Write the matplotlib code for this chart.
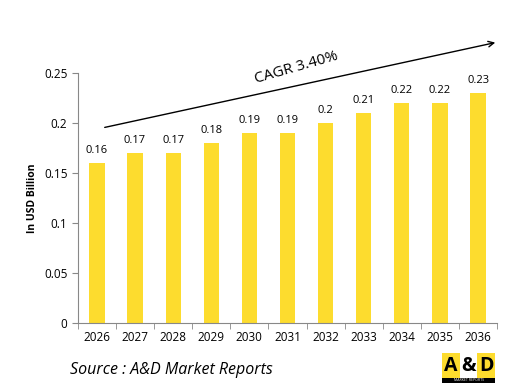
import numpy as np
import matplotlib.pyplot as plt
from matplotlib.patches import Rectangle

plt.rcParams['font.family'] = ['Open Sans', 'DejaVu Sans']

# data
years = ['2026', '2027', '2028', '2029', '2030', '2031', '2032', '2033', '2034', '2035', '2036']
values = [0.16, 0.17, 0.17, 0.18, 0.19, 0.19, 0.2, 0.21, 0.22, 0.22, 0.23]
labels = ['0.16', '0.17', '0.17', '0.18', '0.19', '0.19', '0.2', '0.21', '0.22', '0.22', '0.23']
yticks = [0, 0.05, 0.1, 0.15, 0.2, 0.25]
ytick_labels = ['0', '0.05', '0.1', '0.15', '0.2', '0.25']

fig = plt.figure(figsize=(5.12, 3.92), dpi=100)
ax = fig.add_axes([0.152, 0.176, 0.819, 0.638])

x = np.arange(len(years))
ax.bar(x, values, width=0.4, color='#FDDC2E')
for xi, v, lab in zip(x, values, labels):
    ax.text(xi, v + 0.007, lab, ha='center', va='bottom', fontsize=8)

ax.set_xlim(-0.5, len(years) - 0.5)
ax.set_ylim(0, 0.25)
ax.set_yticks(yticks)
ax.set_yticklabels(ytick_labels, fontsize=8.5)
ax.set_xticks(x)
ax.set_xticklabels(years, fontsize=8.5)
ax.set_xticks(np.arange(-0.5, len(years)), minor=True)
ax.tick_params(axis='x', which='major', length=0, pad=6)
ax.tick_params(axis='x', which='minor', length=4, color='#888888', direction='out')
ax.tick_params(axis='y', length=4, color='#888888', direction='out')
for s in ['top', 'right']:
    ax.spines[s].set_visible(False)
for s in ['left', 'bottom']:
    ax.spines[s].set_color('#888888')
ax.set_ylabel('In USD Billion', fontsize=7.5, fontweight='bold')

# CAGR arrow
ax.annotate('', xy=(498, 392 - 42), xytext=(102, 392 - 128),
            xycoords='figure pixels', textcoords='figure pixels',
            arrowprops=dict(arrowstyle='->', color='black', lw=1.0))
fig.text(296 / 512, 1 - 68 / 392, 'CAGR 3.40%', fontsize=11, rotation=16,
         ha='center', va='center')

# source
fig.text(70 / 512, 1 - 370 / 392, 'Source : A&D Market Reports', fontsize=11.5,
         style='italic', ha='left', va='center')

# logo
lx, ly, lw, lh = 442 / 512, 1 - 383 / 392, 53 / 512, 30 / 392
for i, (ch, bg) in enumerate([('A', '#FDDC2E'), ('&', 'white'), ('D', '#FDDC2E')]):
    fig.patches.append(Rectangle((lx + i * lw / 3, ly + lh * 0.17), lw / 3, lh * 0.83,
                                 transform=fig.transFigure, facecolor=bg, edgecolor='none'))
    fig.text(lx + (i + 0.5) * lw / 3, ly + lh * 0.58, ch, fontsize=14, fontweight='bold',
             ha='center', va='center')
fig.patches.append(Rectangle((lx, ly), lw, lh * 0.17, transform=fig.transFigure,
                             facecolor='black', edgecolor='none'))
fig.text(lx + lw / 2, ly + lh * 0.085, 'MARKET REPORTS', fontsize=2.5, color='white',
         ha='center', va='center')

fig.savefig('out.png', dpi=100)
